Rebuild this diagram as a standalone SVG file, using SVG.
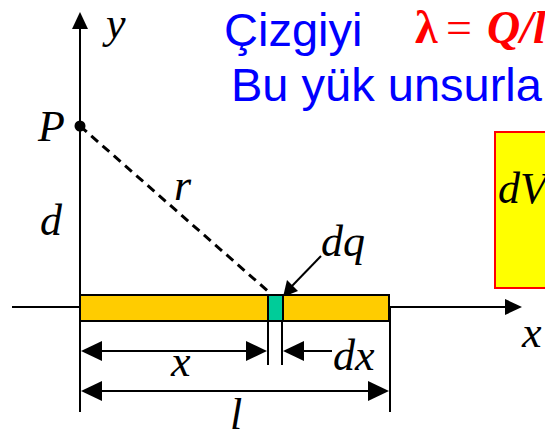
<svg xmlns="http://www.w3.org/2000/svg" width="545" height="438" viewBox="0 0 545 438">
<style>
.lbl{font-family:"Liberation Serif","Times New Roman",serif;font-style:italic;fill:#000;font-size:44px}
.blue{font-family:"Liberation Sans",Arial,sans-serif;fill:#0000FF;font-size:47px}
.red{font-family:"Liberation Serif","Times New Roman",serif;fill:#FF0000;font-size:46px;font-weight:bold}
.ln{stroke:#000;stroke-width:2;fill:none}
.ah{fill:#000}
</style>
<rect width="545" height="438" fill="#fff"/>
<g id="title">
<text class="blue" x="224" y="46">Çizgiyi</text>
<text class="red" y="43"><tspan x="415">λ</tspan><tspan x="446" font-weight="normal">=</tspan><tspan x="487" font-style="italic">Q/l</tspan></text>
<text class="blue" x="231" y="101" font-size="48">Bu yük unsurla</text>
</g>
<g id="formula-box">
<rect x="495" y="132" width="60" height="156" fill="#FFFF00" stroke="#FF0000" stroke-width="2"/>
<text class="lbl" x="498" y="203">dV</text>
</g>
<g id="connectors">
<line class="ln" x1="12" y1="307" x2="508" y2="307"/>
<polygon class="ah" points="522,307 505,299 505,315"/>
<line class="ln" x1="80" y1="26" x2="80" y2="412" stroke-width="3"/>
<polygon class="ah" points="80,12 72,29 88,29"/>
<line x1="80" y1="126" x2="270" y2="293" stroke="#000" stroke-width="3" stroke-dasharray="9 6"/>
<line class="ln" x1="321" y1="256" x2="292" y2="286"/>
<polygon class="ah" points="283,297 287,280 298,291"/>
<line class="ln" x1="268" y1="321" x2="268" y2="365"/>
<line class="ln" x1="282" y1="321" x2="282" y2="365"/>
<line class="ln" x1="390" y1="307" x2="390" y2="412"/>
<line class="ln" x1="96" y1="351" x2="252" y2="351" stroke-width="3"/>
<polygon class="ah" points="81,351 102,341 102,361"/>
<polygon class="ah" points="267,351 246,341 246,361"/>
<line class="ln" x1="300" y1="351" x2="332" y2="351" stroke-width="3"/>
<polygon class="ah" points="283,351 304,341 304,361"/>
<line class="ln" x1="96" y1="391" x2="373" y2="391" stroke-width="3"/>
<polygon class="ah" points="81,391 102,381 102,401"/>
<polygon class="ah" points="389,391 368,381 368,401"/>
</g>
<g id="bar">
<rect x="80" y="295" width="309" height="26" fill="#FFCC00" stroke="#000" stroke-width="2"/>
<rect x="268" y="295" width="15" height="26" fill="#00CC99" stroke="#000" stroke-width="2"/>
</g>
<g id="point-P">
<circle cx="80" cy="126" r="5.5" fill="#000"/>
<text class="lbl" x="38" y="141">P</text>
</g>
<g id="labels">
<text class="lbl" x="106" y="38" font-size="40">y</text>
<text class="lbl" x="174" y="200">r</text>
<text class="lbl" x="40" y="235">d</text>
<text class="lbl" x="321" y="256">dq</text>
<text class="lbl" x="171" y="376">x</text>
<text class="lbl" x="333" y="370">dx</text>
<text class="lbl" x="230" y="429" font-size="38">l</text>
<text class="lbl" x="522" y="347">x</text>
</g>
</svg>
